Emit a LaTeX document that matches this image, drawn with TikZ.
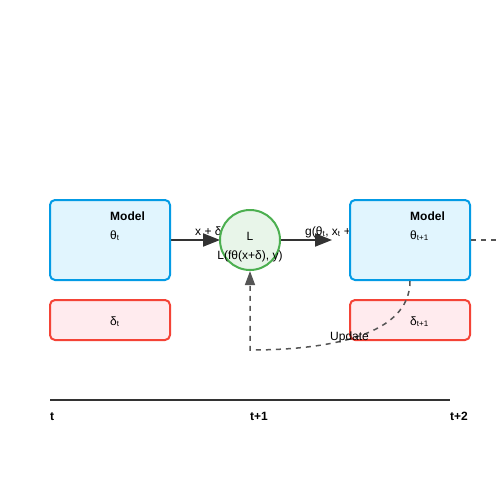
\documentclass[tikz,border=0pt]{standalone}
\usepackage{fontspec}
\setmainfont{Liberation Sans}
\usetikzlibrary{arrows.meta}
\definecolor{modelfill}{HTML}{E1F5FE}
\definecolor{modeldraw}{HTML}{039BE5}
\definecolor{deltafill}{HTML}{FFEBEE}
\definecolor{deltadraw}{HTML}{F44336}
\definecolor{lossfill}{HTML}{E8F5E9}
\definecolor{lossdraw}{HTML}{4CAF50}
\definecolor{flowgray}{HTML}{333333}
\definecolor{updategray}{HTML}{555555}
\tikzset{
  modelbox/.style={draw=modeldraw, fill=modelfill, line width=2pt, rounded corners=5pt,
    minimum width=120pt, minimum height=80pt, inner sep=0pt},
  deltabox/.style={draw=deltadraw, fill=deltafill, line width=2pt, rounded corners=5pt,
    minimum width=120pt, minimum height=40pt, inner sep=0pt},
  lossnode/.style={circle, draw=lossdraw, fill=lossfill, line width=2pt,
    minimum size=60pt, inner sep=0pt},
  txt/.style={inner sep=0pt, anchor=base west},
  ctxt/.style={inner sep=0pt, anchor=base},
  flow/.style={draw=flowgray, line width=2pt, -{Triangle[length=17pt,width=13pt]}},
  upd/.style={draw=updategray, line width=1.5pt, dash pattern=on 5pt off 5pt}
}
\begin{document}
\begin{tikzpicture}[x=1pt, y=-1pt, font=\fontsize{12}{14}\selectfont]
    \useasboundingbox (0,0) rectangle (500,500);
    \coordinate (m1e) at (170,240);
    \coordinate (c1w) at (220,240);
    \coordinate (c1e) at (280,240);
    \coordinate (m2w) at (332,240);
    % edges and their labels, under the nodes
    \draw [flow] (m1e) -- (c1w);
    \draw [flow] (c1e) -- (m2w);
    \node [txt] (0) at (195,235) {x + δ\textsubscript{t}};
    \node [txt] (1) at (305,235) {g(θ\textsubscript{t}, x\textsubscript{t} + δ\textsubscript{t})};
    % nodes
    \node [modelbox] (2) at (110,240) {};
    \node [deltabox] (3) at (110,320) {};
    \node [lossnode] (4) at (250,240) {};
    \node [modelbox] (5) at (410,240) {};
    \node [deltabox] (6) at (410,320) {};
    \node [txt, font=\fontsize{12}{14}\selectfont\bfseries] (7) at (110,220) {Model};
    \node [txt] (8) at (110,239) {θ\textsubscript{t}};
    \node [txt] (9) at (110,325) {δ\textsubscript{t}};
    \node [ctxt] (10) at (250,240) {L};
    \node [ctxt] (11) at (250,259) {L(fθ(x+δ), y)};
    \node [txt, font=\fontsize{12}{14}\selectfont\bfseries] (12) at (410,220) {Model};
    \node [txt] (13) at (410,239) {θ\textsubscript{t+1}};
    \node [txt] (14) at (410,325) {δ\textsubscript{t+1}};
    % update path
    \coordinate (15) at (500,240);
    \draw [upd] (5.east) -- (15);
    \draw [upd, -{Triangle[length=14pt,width=10pt]}] (5.south) .. controls (410,335) and (330,350) .. (250,350) -- (4.south);
    \node [txt] (16) at (330,340) {Update};
    % time axis
    \coordinate (17) at (50,400);
    \coordinate (18) at (450,400);
    \draw [flowgray, line width=2pt] (17) -- (18);
    \node [txt, font=\fontsize{12}{14}\selectfont\bfseries] (19) at (50,420) {t};
    \node [txt, font=\fontsize{12}{14}\selectfont\bfseries] (20) at (250,420) {t+1};
    \node [txt, font=\fontsize{12}{14}\selectfont\bfseries] (21) at (450,420) {t+2};
\end{tikzpicture}
\end{document}
